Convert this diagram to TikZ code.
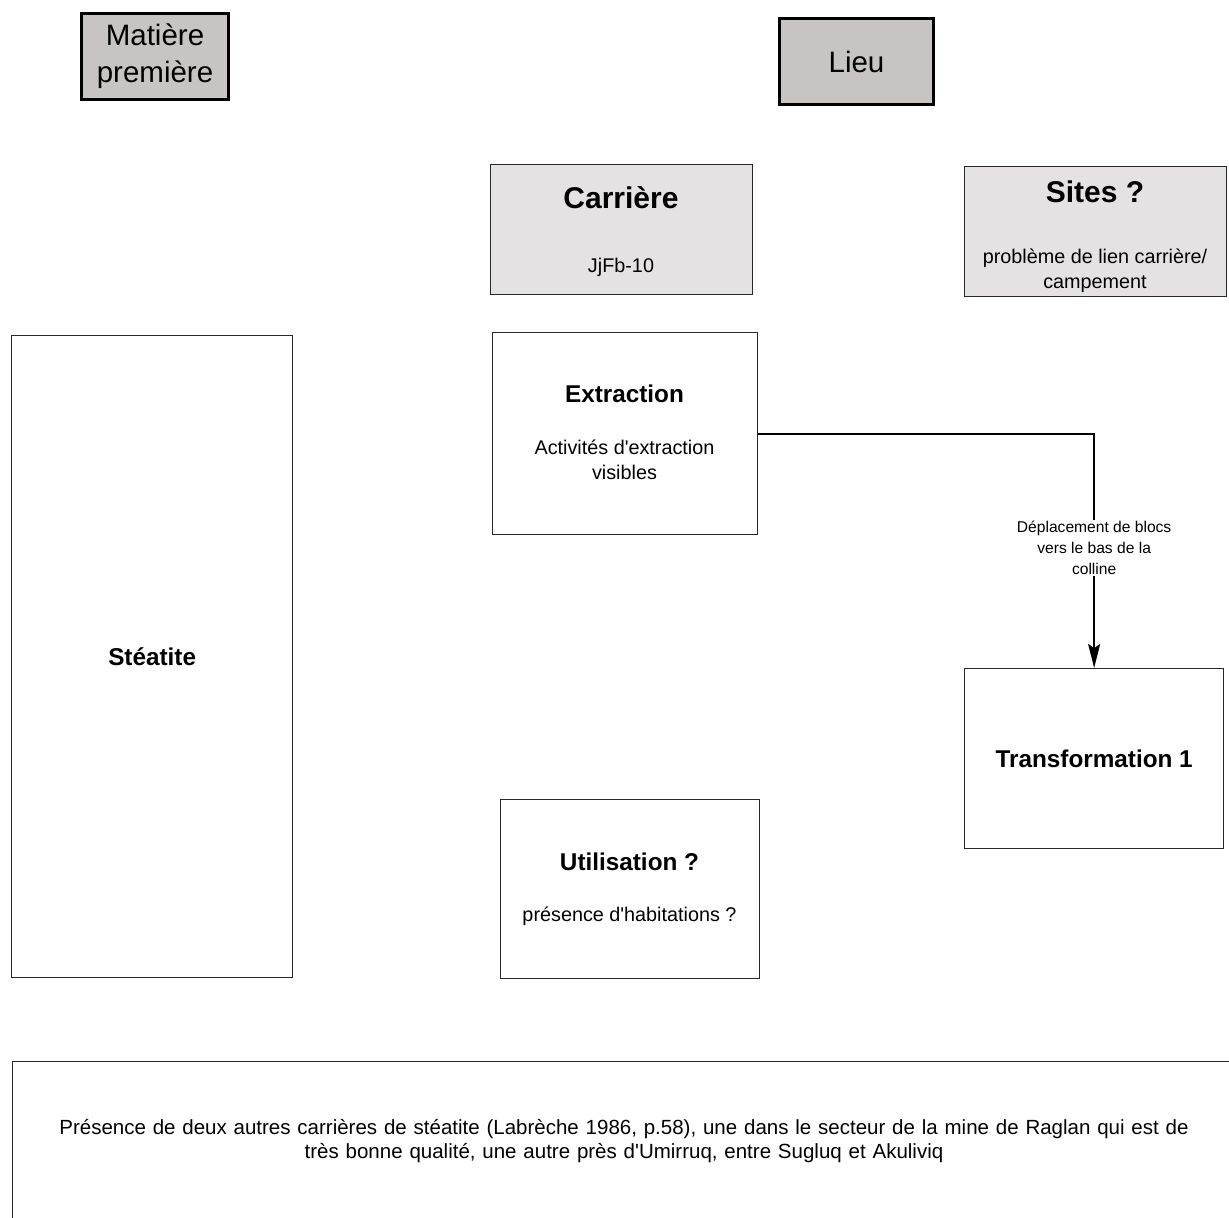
\documentclass[tikz,border=0pt]{standalone}
\usepackage{fontspec}
\setmainfont{Liberation Sans}
\usetikzlibrary{arrows.meta}
\definecolor{headfill}{RGB}{200,196,196}
\definecolor{lightfill}{RGB}{228,226,226}
\definecolor{edge}{RGB}{40,40,40}
\tikzset{
  x=1pt,y=1pt,
  headbox/.style={draw=black,line width=3pt,fill=headfill,anchor=north west,inner sep=0pt,align=center,
    font=\fontsize{29.5}{37}\selectfont},
  graybox/.style={draw=edge,line width=1.3pt,fill=lightfill,anchor=north west,inner sep=0pt},
  whitebox/.style={draw=edge,line width=1.3pt,fill=white,anchor=north west,inner sep=0pt,align=center},
  bigtitle/.style={inner sep=0pt,font=\fontsize{30}{34}\selectfont\bfseries},
  midtitle/.style={inner sep=0pt,font=\fontsize{24.3}{28}\selectfont\bfseries},
  bodytext/.style={inner sep=0pt,align=center,font=\fontsize{19.8}{25.5}\selectfont},
  notetext/.style={inner sep=0pt,align=center,font=\fontsize{20.5}{24}\selectfont},
  smalltext/.style={inner sep=1pt,align=center,fill=white,font=\fontsize{15.6}{21}\selectfont},
  flow/.style={draw=black,line width=2pt,-{Stealth[length=24pt,width=12pt,inset=4pt]}}
}
\begin{document}
\begin{tikzpicture}
\useasboundingbox (0,0) rectangle (1229,-1218);
\clip (0,0) rectangle (1229,-1218);
% headers
\node[headbox,minimum width=147,minimum height=86] (mp) at (80,-12) {Matière\\première};
\node[headbox,minimum width=154,minimum height=86] (lieu) at (778,-17) {Lieu};
% carriere
\node[graybox,minimum width=262,minimum height=130] (carr) at (490,-164) {};
\node[bigtitle] (carrT) at (621,-198) {Carrière};
\node[bodytext] (carrS) at (621,-267) {JjFb-10};
% sites
\node[graybox,minimum width=262,minimum height=130] (sites) at (964,-166) {};
\node[bigtitle] (sitesT) at (1095,-192) {Sites ?};
\node[bodytext] (sitesS) at (1095,-271) {problème de lien carrière/\\campement};
% extraction
\node[whitebox,minimum width=265,minimum height=202] (extr) at (492,-332) {};
\node[midtitle] (extrT) at (624.5,-394) {Extraction};
\node[bodytext] (extrS) at (624.5,-460) {Activités d\textquotesingle extraction\\visibles};
% steatite
\node[whitebox,minimum width=281,minimum height=642,font=\fontsize{24.3}{28}\selectfont\bfseries] (steat) at (11,-335) {Stéatite};
% transformation
\node[whitebox,minimum width=259,minimum height=180,font=\fontsize{24.3}{28}\selectfont\bfseries] (trans) at (964,-668) {Transformation 1};
% utilisation
\node[whitebox,minimum width=259,minimum height=179] (util) at (500,-799) {};
\node[midtitle] (utilT) at (629.5,-862) {Utilisation ?};
\node[bodytext] (utilS) at (629.5,-916) {présence d\textquotesingle habitations ?};
% note
\node[whitebox,minimum width=1224,minimum height=160] (note) at (12,-1061) {};
\node[notetext,text width=1210] (noteT) at (624,-1141) {Présence de deux autres carrières de stéatite (Labrèche 1986, p.58), une dans le secteur de la mine de Raglan qui est de\\très bonne qualité, une autre près d\textquotesingle Umirruq, entre Sugluq et Akuliviq};
% connector
\draw[flow] (extr.east) -| node[smalltext,pos=0.744] (lbl) {Déplacement de blocs\\vers le bas de la\\colline} (trans.north);
\end{tikzpicture}
\end{document}
